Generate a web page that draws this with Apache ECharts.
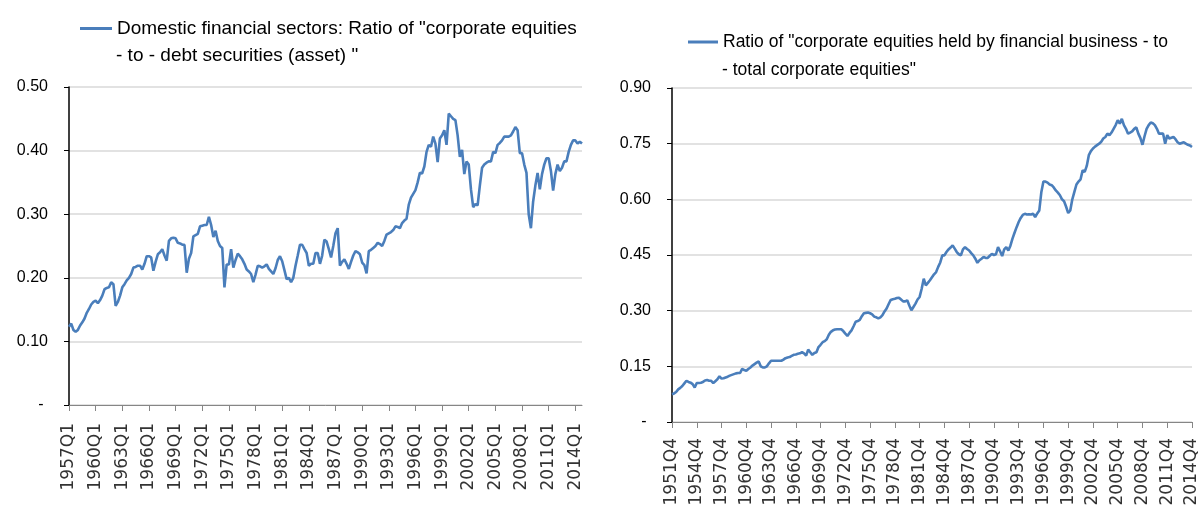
<!DOCTYPE html>
<html>
<head>
<meta charset="utf-8">
<script src="https://cdn.jsdelivr.net/npm/echarts@6/dist/echarts.min.js"></script>
<style>html,body{margin:0;padding:0;background:#fff;}#c{width:1202px;height:519px;}</style>
</head>
<body>
<div id="c"></div>
<script>
// ---------- DATA ----------
const leftStartYear = 1957, leftEndYear = 2014;       // 1957Q1 .. 2014Q4
const rightStartYear = 1951, rightEndYear = 2014;     // 1951Q4 .. 2014Q4

const leftName1 = 'Domestic financial sectors: Ratio of "corporate equities';
const leftName2 = '- to - debt securities (asset) "';
const rightName1 = 'Ratio of "corporate equities held by financial business - to';
const rightName2 = '- total corporate equities"';

const leftValues = [
  0.123,0.128,0.118,0.115, 0.118,0.125,0.130,0.136, 0.145,0.151,0.158,0.162, 0.164,0.160,0.165,0.172,
  0.182,0.184,0.185,0.193, 0.190,0.156,0.162,0.172, 0.185,0.190,0.196,0.200, 0.206,0.216,0.217,0.219,
  0.219,0.213,0.222,0.234, 0.234,0.232,0.211,0.225, 0.237,0.240,0.245,0.235, 0.227,0.258,0.262,0.263,
  0.262,0.255,0.254,0.252, 0.252,0.208,0.230,0.239, 0.265,0.267,0.269,0.281, 0.282,0.283,0.283,0.296,
  0.283,0.264,0.274,0.258, 0.250,0.247,0.185,0.221, 0.221,0.245,0.216,0.228, 0.238,0.234,0.229,0.222,
  0.213,0.210,0.206,0.193, 0.205,0.219,0.218,0.216, 0.218,0.221,0.214,0.210, 0.206,0.215,0.228,0.234,
  0.226,0.212,0.198,0.200, 0.193,0.200,0.219,0.235, 0.252,0.252,0.245,0.239, 0.219,0.222,0.222,0.239,
  0.239,0.222,0.235,0.260, 0.257,0.245,0.232,0.250, 0.270,0.278,0.219,0.225, 0.229,0.222,0.214,0.225,
  0.235,0.242,0.240,0.237, 0.224,0.220,0.207,0.242, 0.244,0.247,0.250,0.255, 0.253,0.250,0.258,0.268,
  0.270,0.272,0.275,0.281, 0.280,0.278,0.286,0.290, 0.293,0.315,0.326,0.332, 0.338,0.350,0.365,0.364,
  0.375,0.398,0.409,0.406, 0.422,0.411,0.382,0.419, 0.424,0.432,0.409,0.458, 0.454,0.450,0.448,0.424,
  0.390,0.401,0.363,0.383, 0.378,0.339,0.311,0.316, 0.314,0.345,0.373,0.378, 0.381,0.383,0.383,0.398,
  0.396,0.409,0.412,0.416, 0.422,0.422,0.422,0.424, 0.430,0.437,0.432,0.396, 0.396,0.378,0.365,0.300,
  0.278,0.320,0.345,0.365, 0.339,0.363,0.378,0.388, 0.388,0.368,0.337,0.363, 0.378,0.368,0.373,0.383,
  0.383,0.398,0.409,0.416, 0.416,0.411,0.414,0.411
];

const rightValues = [
  0.075,
  0.077,0.081,0.088,0.092, 0.097,0.104,0.111,0.108, 0.106,0.102,0.093,0.105, 0.105,0.106,0.108,0.112,
  0.113,0.111,0.111,0.105, 0.110,0.115,0.123,0.117, 0.118,0.120,0.122,0.125, 0.127,0.129,0.131,0.132,
  0.132,0.143,0.140,0.138, 0.143,0.147,0.152,0.156, 0.160,0.163,0.150,0.147, 0.147,0.150,0.158,0.165,
  0.165,0.165,0.165,0.165, 0.165,0.168,0.172,0.174, 0.175,0.178,0.181,0.182, 0.184,0.185,0.188,0.185,
  0.179,0.195,0.188,0.181, 0.186,0.188,0.202,0.208, 0.215,0.218,0.223,0.235, 0.243,0.247,0.249,0.250,
  0.250,0.250,0.245,0.238, 0.232,0.240,0.247,0.258, 0.270,0.272,0.275,0.285, 0.293,0.294,0.295,0.293,
  0.290,0.284,0.282,0.279, 0.282,0.288,0.298,0.306, 0.318,0.329,0.331,0.332, 0.334,0.335,0.330,0.325,
  0.325,0.328,0.314,0.301, 0.310,0.319,0.330,0.337, 0.359,0.386,0.368,0.375, 0.382,0.390,0.398,0.404,
  0.418,0.430,0.449,0.449, 0.458,0.465,0.470,0.476, 0.467,0.458,0.452,0.449, 0.465,0.471,0.466,0.462,
  0.455,0.449,0.440,0.429, 0.436,0.440,0.445,0.442, 0.442,0.448,0.453,0.450, 0.452,0.471,0.460,0.447,
  0.465,0.471,0.462,0.475, 0.494,0.510,0.525,0.539, 0.550,0.558,0.561,0.559, 0.560,0.559,0.561,0.552,
  0.562,0.570,0.620,0.648, 0.648,0.645,0.640,0.638, 0.632,0.624,0.618,0.611, 0.600,0.595,0.580,0.563,
  0.570,0.600,0.620,0.640, 0.648,0.654,0.678,0.674, 0.690,0.719,0.730,0.737, 0.742,0.746,0.750,0.755,
  0.764,0.768,0.777,0.773, 0.780,0.790,0.800,0.813, 0.804,0.817,0.800,0.790, 0.777,0.780,0.783,0.790,
  0.794,0.777,0.765,0.747, 0.770,0.790,0.800,0.807, 0.805,0.800,0.790,0.777, 0.777,0.777,0.750,0.773,
  0.764,0.766,0.768,0.762, 0.754,0.750,0.752,0.754, 0.750,0.747,0.745,0.741
];

const leftTicks = [0, 0.10, 0.20, 0.30, 0.40, 0.50];
const rightTicks = [0, 0.15, 0.30, 0.45, 0.60, 0.75, 0.90];

// ---------- CATEGORIES ----------
function quarters(y0, q0, y1, q1) {
  const out = [];
  for (let y = y0; y <= y1; y++) {
    for (let q = 1; q <= 4; q++) {
      if (y === y0 && q < q0) continue;
      if (y === y1 && q > q1) continue;
      out.push(y + 'Q' + q);
    }
  }
  return out;
}
const leftCats = quarters(leftStartYear, 1, leftEndYear, 4);
const rightCats = quarters(rightStartYear, 4, rightEndYear, 4);

// ---------- CHART ----------
const lineColor = '#4a7ebb';
const chart = echarts.init(document.getElementById('c'), null, {renderer: 'canvas'});
const leftFont = {fontFamily: '"Liberation Sans", sans-serif', fontSize: 19, color: '#000'};
const rightFont = {fontFamily: '"Liberation Sans", sans-serif', fontSize: 17.5, color: '#000'};

function xAxis(gridIndex, cats, margin) {
  return {
    type: 'category', gridIndex, data: cats, boundaryGap: false,
    axisLine: {lineStyle: {color: '#868686', width: 1}},
    axisTick: {show: true, interval: 11, length: 6, lineStyle: {color: '#868686'}},
    axisLabel: {interval: 11, rotate: 90, fontFamily: 'DejaVu Sans', fontSize: 17, color: '#333', margin},
    splitLine: {show: false}
  };
}
function yAxis(gridIndex, max, interval) {
  return {
    type: 'value', gridIndex, min: 0, max, interval,
    axisLine: {show: true, lineStyle: {color: '#000', width: 1.5}},
    axisTick: {show: true, length: 5, lineStyle: {color: '#000'}},
    axisLabel: {
      fontFamily: '"Liberation Sans", sans-serif', fontSize: 16, color: '#000', margin: 21,
      formatter: v => (v === 0 ? '- ' : v.toFixed(2))
    },
    splitLine: {show: true, lineStyle: {color: '#d9d9d9', width: 1.5}}
  };
}

chart.setOption({
  animation: false,
  backgroundColor: '#fff',
  grid: [
    {left: 69, right: 620, top: 87, bottom: 114},
    {left: 672, right: 10, top: 88, bottom: 97}
  ],
  xAxis: [xAxis(0, leftCats, 18), xAxis(1, rightCats, 16)],
  yAxis: [yAxis(0, leftTicks[leftTicks.length - 1], leftTicks[1]), yAxis(1, rightTicks[rightTicks.length - 1], rightTicks[1])],
  legend: [
    {data: [leftName1 + ' ' + leftName2], left: 80, top: 19, padding: 0, itemWidth: 32, itemHeight: 3, icon: 'rect', itemGap: 4,
     formatter: () => leftName1, textStyle: leftFont},
    {data: [rightName1 + ' ' + rightName2], left: 688, top: 33, padding: 0, itemWidth: 30, itemHeight: 3, icon: 'rect', itemGap: 4,
     formatter: () => rightName1, textStyle: rightFont}
  ],
  title: [
    {text: leftName2, left: 116, top: 46, padding: 0, textStyle: Object.assign({fontWeight: 'normal'}, leftFont)},
    {text: rightName2, left: 722, top: 61, padding: 0, textStyle: Object.assign({fontWeight: 'normal'}, rightFont)}
  ],
  series: [
    {name: leftName1 + ' ' + leftName2, type: 'line', xAxisIndex: 0, yAxisIndex: 0, data: leftValues,
     symbol: 'none', lineStyle: {color: lineColor, width: 2.6}, itemStyle: {color: lineColor}},
    {name: rightName1 + ' ' + rightName2, type: 'line', xAxisIndex: 1, yAxisIndex: 1, data: rightValues,
     symbol: 'none', lineStyle: {color: lineColor, width: 2.6}, itemStyle: {color: lineColor}}
  ]
});
</script>
</body>
</html>
